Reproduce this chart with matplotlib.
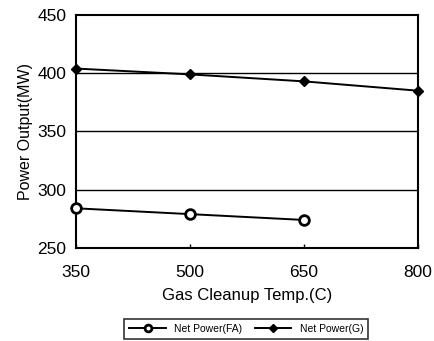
import numpy as np
import matplotlib.pyplot as plt

plt.rcParams['font.family'] = ['Liberation Sans', 'DejaVu Sans']

# gas cleanup temperature (C)
temps = [350, 500, 650, 800]
# net power output (MW)
net_fa = [284, 279, 274]
net_g = [404, 399, 393, 385]

fig = plt.figure(figsize=(4.35, 3.41), dpi=100)
ax = fig.add_axes([0.175, 0.273, 0.786, 0.683])

ax.plot(temps[:3], net_fa, color='black', lw=1.4, marker='o', ms=7,
        mfc='white', mec='black', mew=2.0, label='Net Power(FA)', clip_on=False, zorder=3)
ax.plot(temps, net_g, color='black', lw=1.4, marker='D', ms=5.5,
        mfc='black', mec='black', label='Net Power(G)', clip_on=False, zorder=3)

ax.set_xlim(350, 800)
ax.set_ylim(250, 450)
ax.set_xticks(temps)
ax.set_yticks([250, 300, 350, 400, 450])
for y in [300, 350, 400]:
    ax.axhline(y, color='black', lw=1.0, zorder=1)

for s in ax.spines.values():
    s.set_linewidth(1.5)
ax.tick_params(axis='both', direction='in', length=3, width=1, labelsize=12.5)
ax.tick_params(axis='x', pad=12)
ax.tick_params(axis='y', length=0, pad=7)

ax.set_xlabel('Gas Cleanup Temp.(C)', fontsize=12, labelpad=6)
ax.set_ylabel('Power Output(MW)', fontsize=11.5, labelpad=3)

leg = fig.legend(loc='center', bbox_to_anchor=(0.566, 0.036), ncol=2, fontsize=7.5,
                 frameon=True, fancybox=False, edgecolor='black', handlelength=3.5,
                 columnspacing=1.2, borderpad=0.5, markerscale=0.7)
leg.get_frame().set_linewidth(1.2)

fig.savefig('out.png', dpi=100)
